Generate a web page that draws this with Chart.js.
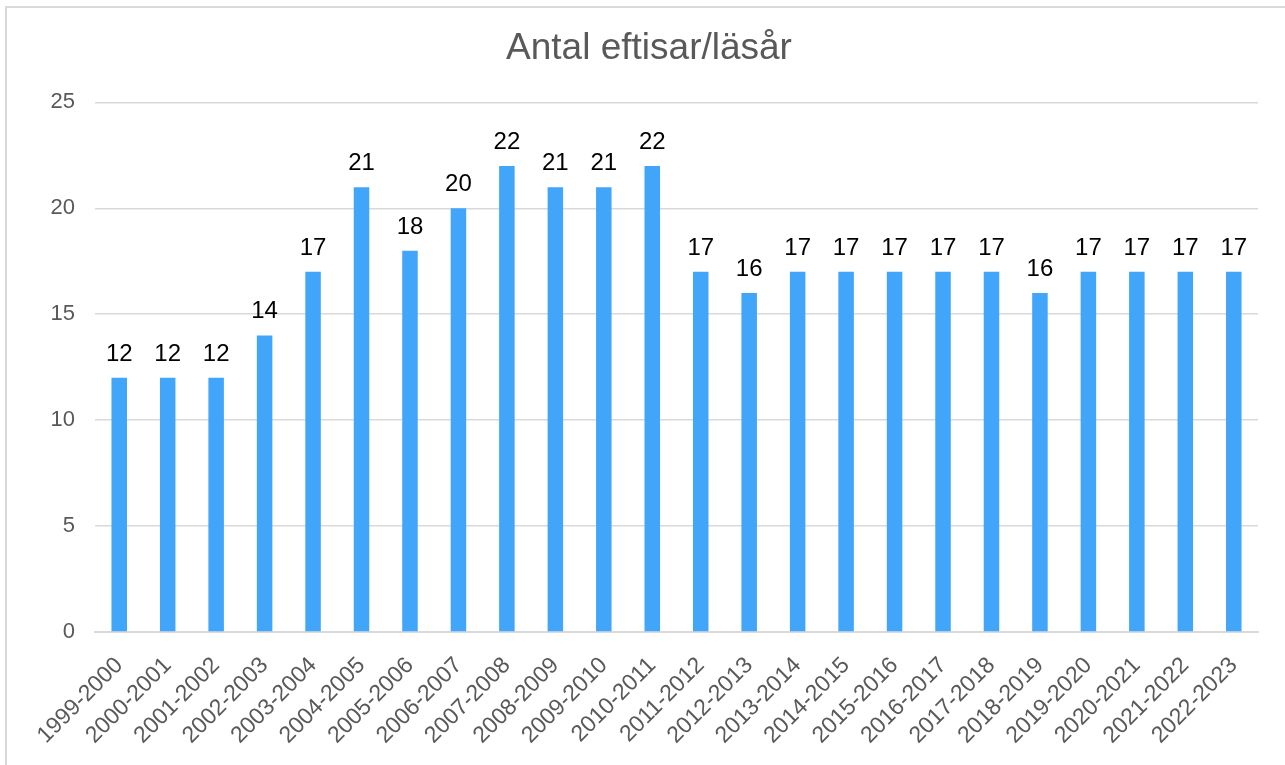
<!DOCTYPE html>
<html>
<head>
<meta charset="utf-8">
<script src="https://cdn.jsdelivr.net/npm/chart.js@4.4.1/dist/chart.umd.min.js"></script>
<style>
  html, body { margin: 0; padding: 0; background: #fff; overflow: hidden; }
  #frame {
    position: absolute; left: 5px; top: 6px; width: 1400px; height: 900px;
    border: 2px solid #d9d9d9; box-sizing: border-box;
  }
  #wrap { position: absolute; left: 0; top: 0; width: 1285px; height: 765px; }
</style>
</head>
<body>
<div id="frame"></div>
<div id="wrap"><canvas id="eftisChart"></canvas></div>
<script>
// Läsår och antal eftisar
const seasons = [
  "1999-2000", "2000-2001", "2001-2002", "2002-2003", "2003-2004", "2004-2005",
  "2005-2006", "2006-2007", "2007-2008", "2008-2009", "2009-2010", "2010-2011",
  "2011-2012", "2012-2013", "2013-2014", "2014-2015", "2015-2016", "2016-2017",
  "2017-2018", "2018-2019", "2019-2020", "2020-2021", "2021-2022", "2022-2023"
];
const eftisCount = [12, 12, 12, 14, 17, 21, 18, 20, 22, 21, 21, 22, 17, 16, 17, 17, 17, 17, 17, 16, 17, 17, 17, 17];
const yTicks = [0, 5, 10, 15, 20, 25];

const FONT = "'Liberation Sans', Arial, sans-serif";

// draws the value above each bar
const valueLabels = {
  id: "valueLabels",
  afterDatasetsDraw(chart) {
    const ctx = chart.ctx;
    const meta = chart.getDatasetMeta(0);
    ctx.save();
    ctx.font = "24px " + FONT;
    ctx.fillStyle = "#000";
    ctx.textAlign = "center";
    ctx.textBaseline = "alphabetic";
    meta.data.forEach((bar, i) => {
      ctx.fillText(String(eftisCount[i]), bar.x, bar.y - 17);
    });
    ctx.restore();
  },
};

const ctx = document.getElementById("eftisChart").getContext("2d");
new Chart(ctx, {
  type: "bar",
  data: {
    labels: seasons,
    datasets: [
      {
        label: "Antal eftisar",
        data: eftisCount,
        backgroundColor: "#41A5F9",
        borderWidth: 0,
        barPercentage: 0.32,
        categoryPercentage: 1,
      },
    ],
  },
  options: {
    responsive: true,
    maintainAspectRatio: false,
    animation: false,
    layout: { padding: { left: 40, right: 27, top: 0, bottom: 0 } },
    plugins: {
      legend: { display: false },
      tooltip: { enabled: false },
      title: {
        display: true,
        text: "Antal eftisar/läsår",
        color: "#595959",
        font: { family: FONT, size: 37, weight: "normal" },
        padding: { top: 27, bottom: 31 },
      },
    },
    scales: {
      x: {
        grid: { display: false },
        border: { display: true, color: "#d9d9d9", width: 2 },
        ticks: {
          color: "#595959",
          font: { family: FONT, size: 23 },
          minRotation: 45,
          maxRotation: 45,
          autoSkip: false,
          padding: 12,
        },
        afterFit(scale) { scale.height = 133; },
      },
      y: {
        min: 0,
        max: 25,
        afterBuildTicks(scale) { scale.ticks = yTicks.map((v) => ({ value: v })); },
        grid: { color: "#d9d9d9", lineWidth: 1.5, drawTicks: false },
        border: { display: false },
        ticks: {
          color: "#595959",
          font: { family: FONT, size: 22 },
          padding: 20,
        },
        afterFit(scale) { scale.width = 55; },
      },
    },
  },
  plugins: [valueLabels],
});
</script>
</body>
</html>
